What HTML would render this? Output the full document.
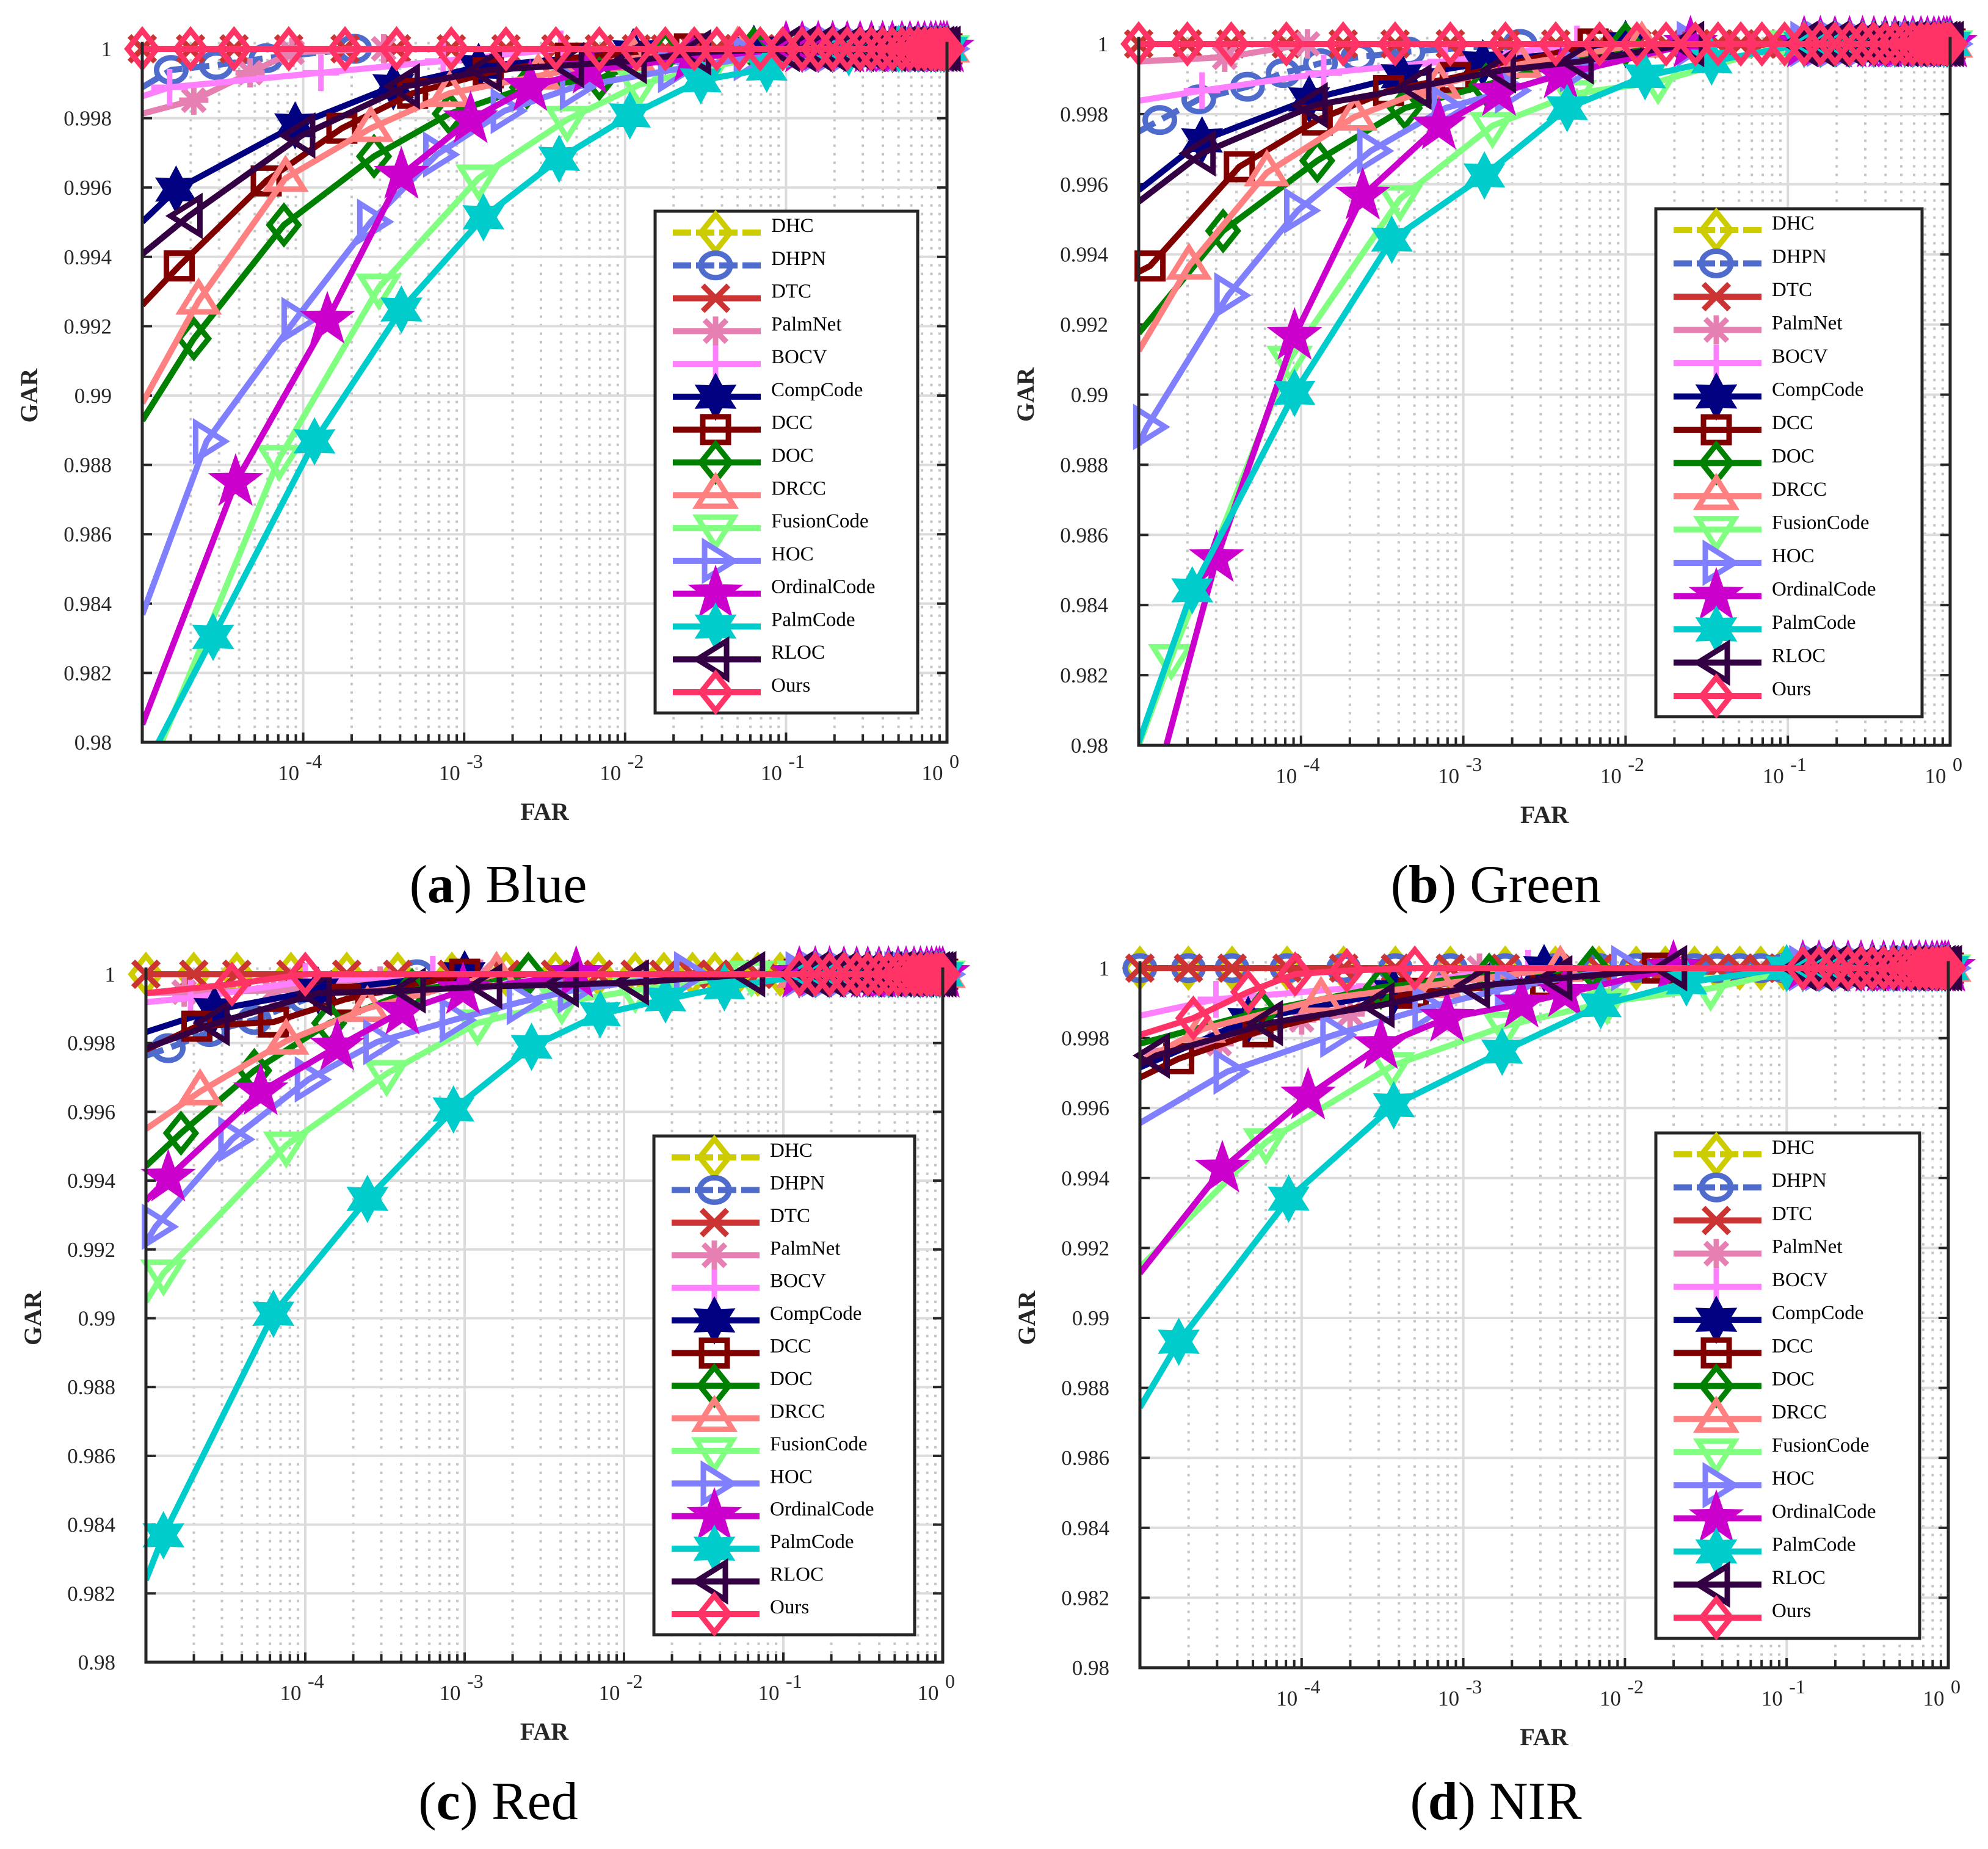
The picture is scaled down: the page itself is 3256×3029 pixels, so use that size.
<!DOCTYPE html>
<html><head><meta charset="utf-8"><title>ROC curves</title>
<style>html,body{margin:0;padding:0;background:#fff}svg{display:block}</style></head>
<body>
<svg id="fig" width="3256" height="3029" viewBox="0 0 3256 3029" xmlns="http://www.w3.org/2000/svg" font-family="'Liberation Serif', serif"></svg>
<script>
// ---------- data: points are [log10(FAR), GAR] ----------
const methodNames = ["DHC","DHPN","DTC","PalmNet","BOCV","CompCode","DCC","DOC","DRCC","FusionCode","HOC","OrdinalCode","PalmCode","RLOC","Ours"];
const yTickLabels = ["0.98","0.982","0.984","0.986","0.988","0.99","0.992","0.994","0.996","0.998","1"];
const yTickValues = [0.98,0.982,0.984,0.986,0.988,0.99,0.992,0.994,0.996,0.998,1];
const xTickExps = ["-4","-3","-2","-1","0"];
const xTickValues = [-4,-3,-2,-1,0];
const captionLetters = ["a","b","c","d"];
const captionNames = ["Blue","Green","Red","NIR"];
const topFlatX = [-5,-4.7,-4.43,-4.09,-3.74,-3.42,-3.08,-2.74,-2.43,-2.16,-1.93,-1.75,-1.57,-1.43,-1.29,-1.16,-1.02];
const tailX = [-0.9,-0.8,-0.71,-0.62,-0.54,-0.47,-0.4,-0.34,-0.28,-0.23,-0.18,-0.14,-0.1,-0.07,-0.04,-0.02,0];

// Panel (a) Blue
const A_DHC=[];const A_DTC=[];const A_Ours=[];
const A_DHPN=[[-5,0.99889],[-4.82,0.99939],[-4.54,0.99953],[-4.23,0.99973],[-3.68,1]];
const A_PalmNet=[[-5,0.99813],[-4.68,0.99852],[-4.33,0.99931],[-4.07,0.9999],[-3.5,1]];
const A_BOCV=[[-5,0.99863],[-4.83,0.99889],[-3.89,0.99931],[-3.13,0.99965],[-2.4,1]];
const A_CompCode=[[-5,0.99501],[-4.79,0.99594],[-4.05,0.99779],[-3.44,0.99892],[-2.91,0.99948],[-1.95,0.9999],[-1.2,1]];
const A_DCC=[[-5,0.99261],[-4.77,0.99374],[-4.23,0.99619],[-3.76,0.99771],[-3.32,0.99872],[-2.85,0.99931],[-2.34,0.99973],[-1.6,1]];
const A_DOC=[[-5,0.98928],[-4.68,0.99164],[-4.12,0.99492],[-3.56,0.9969],[-3.09,0.99813],[-2.61,0.99889],[-2.16,0.99914],[-1.75,0.9999],[-1.2,1]];
const A_DRCC=[[-5,0.98978],[-4.65,0.99273],[-4.11,0.99627],[-3.58,0.99771],[-3.09,0.99872],[-2.54,0.99922],[-1.95,0.99973],[-1.3,1]];
const A_FusionCode=[[-4.88,0.98],[-4.15,0.98818],[-3.53,0.99312],[-2.91,0.99627],[-2.36,0.99796],[-1.91,0.99897],[-1.47,0.99948],[-0.9,1]];
const A_HOC=[[-5,0.98368],[-4.6,0.98868],[-4.05,0.99218],[-3.58,0.99501],[-3.17,0.99695],[-2.75,0.99821],[-2.32,0.99889],[-1.71,0.99939],[-1.24,0.99973],[-0.8,1]];
const A_OrdinalCode=[[-5,0.98051],[-4.42,0.9875],[-3.85,0.99218],[-3.39,0.99636],[-2.96,0.99796],[-2.59,0.99889],[-2.22,0.99939],[-1.59,0.99973],[-1.0,1]];
const A_PalmCode=[[-4.9,0.98],[-4.56,0.98304],[-3.93,0.98868],[-3.39,0.99248],[-2.88,0.99514],[-2.41,0.99683],[-1.97,0.99808],[-1.53,0.99909],[-1.12,0.99943],[-0.61,0.9999],[-0.3,1]];
const A_RLOC=[[-5,0.99408],[-4.71,0.99518],[-4.01,0.9975],[-3.36,0.99892],[-2.85,0.99939],[-2.34,0.99953],[-1.95,0.99965],[-1.55,0.9999],[-1.0,1]];

// Panel (b) Green
const B_DHC=[];const B_DTC=[];const B_Ours=[];
const B_DHPN=[[-5,0.9975],[-4.87,0.99783],[-4.63,0.99842],[-4.33,0.99878],[-4.11,0.99917],[-3.88,0.99945],[-3.65,0.99962],[-3.34,0.99978],[-2.65,1]];
const B_PalmNet=[[-5,0.9995],[-4.47,0.99962],[-3.96,1]];
const B_BOCV=[[-5,0.99838],[-4.61,0.99867],[-3.86,0.99917],[-3.11,0.9995],[-2.3,1]];
const B_CompCode=[[-5,0.99583],[-4.61,0.99725],[-3.95,0.99842],[-3.38,0.99908],[-2.88,0.99945],[-2.0,1]];
const B_DCC=[[-5,0.9935],[-4.93,0.99367],[-4.38,0.9965],[-3.9,0.99783],[-3.46,0.99867],[-3.05,0.99905],[-2.2,1]];
const B_DOC=[[-5,0.99175],[-4.48,0.99467],[-3.9,0.99667],[-3.36,0.99817],[-2.86,0.99883],[-2.0,1]];
const B_DRCC=[[-5,0.99125],[-4.69,0.99367],[-4.21,0.99633],[-3.67,0.99792],[-3.15,0.99883],[-2.65,0.99942],[-1.9,1]];
const B_FusionCode=[[-5,0.98],[-4.8,0.9825],[-4.07,0.991],[-3.39,0.99558],[-2.82,0.99767],[-2.32,0.99858],[-1.8,0.99892],[-1.0,1]];
const B_HOC=[[-5,0.98858],[-4.95,0.98908],[-4.45,0.99283],[-4.02,0.99525],[-3.57,0.99695],[-3.11,0.99817],[-2.72,0.99867],[-2.32,0.99928],[-1.6,1]];
const B_OrdinalCode=[[-4.83,0.98],[-4.52,0.98533],[-4.04,0.99167],[-3.62,0.99567],[-3.15,0.99767],[-2.78,0.99862],[-2.4,0.99912],[-1.6,1]];
const B_PalmCode=[[-5,0.98008],[-4.67,0.98442],[-4.04,0.99005],[-3.44,0.99442],[-2.87,0.99625],[-2.36,0.99817],[-1.88,0.99908],[-1.47,0.9995],[-0.9,1]];
const B_RLOC=[[-5,0.9955],[-4.61,0.99688],[-3.92,0.99825],[-3.28,0.99878],[-2.76,0.99925],[-2.28,0.9995],[-1.6,1]];

// Panel (c) Red
const C_DHC=[];const C_DTC=[];
const C_Ours=[[-5,0.99945],[-4.46,0.99971],[-4.0,1]];
const C_DHPN=[[-5,0.99763],[-4.86,0.99785],[-4.6,0.99832],[-4.32,0.99867],[-4.0,0.99927],[-3.3,1]];
const C_PalmNet=[[-5,0.99945],[-4.76,0.99948],[-4.2,0.99953],[-3.53,0.9998],[-2.9,1]];
const C_BOCV=[[-5,0.99919],[-4.72,0.99931],[-4.0,0.99979],[-3.2,1]];
const C_CompCode=[[-5,0.99832],[-4.57,0.99896],[-3.92,0.99953],[-3.0,1]];
const C_DCC=[[-5,0.9978],[-4.68,0.99849],[-4.2,0.99861],[-3.75,0.99927],[-3.0,1]];
const C_DOC=[[-5,0.99442],[-4.78,0.99538],[-4.32,0.9972],[-3.85,0.99858],[-3.33,0.99953],[-2.6,1]];
const C_DRCC=[[-5,0.9955],[-4.66,0.99659],[-4.12,0.99806],[-3.61,0.99901],[-2.8,1]];
const C_FusionCode=[[-5,0.99048],[-4.89,0.99131],[-4.12,0.99503],[-3.49,0.99711],[-2.92,0.99858],[-2.39,0.99919],[-1.93,0.99953],[-1.2,1]];
const C_HOC=[[-5,0.99221],[-4.94,0.99266],[-4.46,0.9952],[-3.98,0.99694],[-3.55,0.99803],[-3.07,0.99867],[-2.65,0.99919],[-2.33,0.99953],[-1.6,1]];
const C_OrdinalCode=[[-5,0.99342],[-4.86,0.99408],[-4.28,0.99659],[-3.8,0.99789],[-3.39,0.99893],[-3.01,0.99953],[-2.3,1]];
const C_PalmCode=[[-5,0.98239],[-4.89,0.98369],[-4.2,0.99013],[-3.61,0.99347],[-3.07,0.99607],[-2.58,0.99789],[-2.15,0.99884],[-1.74,0.99927],[-1.37,0.99962],[-0.8,1]];
const C_RLOC=[[-5,0.99785],[-4.56,0.99858],[-3.92,0.99945],[-3.33,0.99953],[-2.85,0.99965],[-2.37,0.9997],[-1.93,0.99976],[-1.2,1]];

// Panel (d) NIR
const D_DHC=[];const D_DTC=[];const D_DHPN=[];
const D_Ours=[[-5,0.99809],[-4.67,0.99857],[-4.33,0.99932],[-4.04,0.99983],[-3.72,0.99993],[-3.3,1]];
const D_PalmNet=[[-5,0.99758],[-4.51,0.99784],[-4.0,0.99852],[-3.7,0.99869],[-2.9,1]];
const D_BOCV=[[-5,0.99864],[-4.53,0.99911],[-3.55,0.99949],[-2.6,1]];
const D_CompCode=[[-5,0.99716],[-4.33,0.99852],[-3.43,0.99932],[-2.5,1]];
const D_DCC=[[-5,0.99687],[-4.76,0.99741],[-4.27,0.99818],[-3.31,0.99928],[-2.49,0.99959],[-1.8,1]];
const D_DOC=[[-5,0.99784],[-4.25,0.99877],[-3.51,0.99945],[-2.84,0.9998],[-2.2,1]];
const D_DRCC=[[-5,0.99733],[-4.61,0.99826],[-3.88,0.99911],[-3.15,0.99954],[-2.4,1]];
const D_FusionCode=[[-5,0.99145],[-4.22,0.99503],[-3.44,0.99721],[-2.74,0.99835],[-2.11,0.99903],[-1.47,0.99942],[-0.9,1]];
const D_HOC=[[-5,0.99557],[-4.46,0.99704],[-3.8,0.99809],[-3.23,0.99886],[-2.72,0.99945],[-2.0,1]];
const D_OrdinalCode=[[-5,0.99128],[-4.49,0.99426],[-3.96,0.99635],[-3.51,0.99779],[-3.1,0.99857],[-2.64,0.99898],[-2.37,0.99928],[-1.7,1]];
const D_PalmCode=[[-5,0.98744],[-4.76,0.98932],[-4.08,0.99341],[-3.43,0.99608],[-2.76,0.99761],[-2.15,0.99894],[-1.62,0.99959],[-1.0,1]];
const D_RLOC=[[-5,0.99724],[-4.9,0.9975],[-4.2,0.99843],[-3.51,0.99894],[-2.92,0.99949],[-2.41,0.99971],[-1.7,1]];

// ---------- layout / styles ----------
const panels = [
  {L:233,R:1551,Y1:80,Y0:1216,lg:[1073,346,1503,1168],cap:[816,1478],series:[A_DHC,A_DHPN,A_DTC,A_PalmNet,A_BOCV,A_CompCode,A_DCC,A_DOC,A_DRCC,A_FusionCode,A_HOC,A_OrdinalCode,A_PalmCode,A_RLOC,A_Ours]},
  {L:1865,R:3194,Y1:72,Y0:1221,lg:[2712,342,3148,1174],cap:[2450,1478],series:[B_DHC,B_DHPN,B_DTC,B_PalmNet,B_BOCV,B_CompCode,B_DCC,B_DOC,B_DRCC,B_FusionCode,B_HOC,B_OrdinalCode,B_PalmCode,B_RLOC,B_Ours]},
  {L:239,R:1544,Y1:1596,Y0:2723,lg:[1071,1861,1498,2678],cap:[816,2980],series:[C_DHC,C_DHPN,C_DTC,C_PalmNet,C_BOCV,C_CompCode,C_DCC,C_DOC,C_DRCC,C_FusionCode,C_HOC,C_OrdinalCode,C_PalmCode,C_RLOC,C_Ours]},
  {L:1867,R:3191,Y1:1586,Y0:2732,lg:[2712,1856,3144,2684],cap:[2450,2980],series:[D_DHC,D_DHPN,D_DTC,D_PalmNet,D_BOCV,D_CompCode,D_DCC,D_DOC,D_DRCC,D_FusionCode,D_HOC,D_OrdinalCode,D_PalmCode,D_RLOC,D_Ours]}
];
const colors = ["#cccc00","#4f6bcc","#cc3333","#e680b3","#ff80ff","#000080","#800000","#008000","#ff8080","#80ff80","#8080ff","#cc00cc","#00cccc","#330044","#ff3366"];
const markers = ["diamond","circle","x","asterisk","plus","hexagram","square","diamond","up","down","right","pentagram","hexagram","left","diamond"];
const dashed = [true,true,false,false,false,false,false,false,false,false,false,false,false,false,false];

const NS="http://www.w3.org/2000/svg";
const svg=document.getElementById('fig');
function mk(tag,attrs,parent){const e=document.createElementNS(NS,tag);for(const k in attrs)e.setAttribute(k,attrs[k]);(parent||svg).appendChild(e);return e;}

function markerPath(type,cx,cy,r){
  const p=(pts)=>'M'+pts.map(q=>q[0].toFixed(1)+','+q[1].toFixed(1)).join('L')+'Z';
  if(type==='diamond')return p([[cx,cy-r],[cx+r*0.8,cy],[cx,cy+r],[cx-r*0.8,cy]]);
  if(type==='square')return p([[cx-r*0.7,cy-r*0.7],[cx+r*0.7,cy-r*0.7],[cx+r*0.7,cy+r*0.7],[cx-r*0.7,cy+r*0.7]]);
  if(type==='up')return p([[cx,cy-r],[cx+r,cy+r*0.6],[cx-r,cy+r*0.6]]);
  if(type==='down')return p([[cx,cy+r],[cx+r,cy-r*0.6],[cx-r,cy-r*0.6]]);
  if(type==='right')return p([[cx+r,cy],[cx-r*0.6,cy-r],[cx-r*0.6,cy+r]]);
  if(type==='left')return p([[cx-r,cy],[cx+r*0.6,cy-r],[cx+r*0.6,cy+r]]);
  if(type==='x')return `M${cx-r*0.7},${cy-r*0.7}L${cx+r*0.7},${cy+r*0.7}M${cx+r*0.7},${cy-r*0.7}L${cx-r*0.7},${cy+r*0.7}`;
  if(type==='plus')return `M${cx-r},${cy}L${cx+r},${cy}M${cx},${cy-r}L${cx},${cy+r}`;
  if(type==='asterisk')return `M${cx-r*0.8},${cy}L${cx+r*0.8},${cy}M${cx},${cy-r*0.8}L${cx},${cy+r*0.8}M${cx-r*0.6},${cy-r*0.6}L${cx+r*0.6},${cy+r*0.6}M${cx+r*0.6},${cy-r*0.6}L${cx-r*0.6},${cy+r*0.6}`;
  if(type==='pentagram'||type==='hexagram'){
    const n=type==='pentagram'?5:6,ri=type==='pentagram'?0.4:0.55;const pts=[];
    for(let i=0;i<2*n;i++){const a=-Math.PI/2+i*Math.PI/n;const rr=i%2?r*ri:r;pts.push([cx+rr*Math.cos(a),cy+rr*Math.sin(a)]);}
    return p(pts);
  }
  return '';
}
function drawMarker(g,type,cx,cy,col,name){
  let e;
  if(type==='circle'){e=mk('ellipse',{cx:cx,cy:cy,rx:24,ry:20,fill:'none',stroke:col,'stroke-width':9},g);}
  else{
    const filled=(type==='pentagram'||type==='hexagram');
    const r=type==='pentagram'?34:30;
    e=mk('path',{d:markerPath(type,cx,cy,r),fill:filled?col:'none',stroke:col,'stroke-width':9,'stroke-linejoin':'miter'},g);
  }
  
  
}

panels.forEach((P,pi)=>{
  const g=mk('g',{});
  
  
  const xs=v=>P.L+(v+5)/5*(P.R-P.L);
  const ys=v=>P.Y0-(v-0.98)/0.02*(P.Y0-P.Y1);
  const top=ys(1.0002);
  const grid=mk('g',{},g);
  
  
  for(let d=-5;d<0;d++){for(let m=2;m<10;m++){const x=xs(d+Math.log10(m));
    mk('line',{x1:x,y1:top,x2:x,y2:P.Y0,stroke:'#c4c4c4','stroke-width':4,'stroke-dasharray':'4 10'},grid);
    mk('line',{x1:x,y1:P.Y0,x2:x,y2:P.Y0-13,stroke:'#262626','stroke-width':4},grid);}}
  xTickValues.forEach(v=>{const x=xs(v);mk('line',{x1:x,y1:top,x2:x,y2:P.Y0,stroke:'#dcdcdc','stroke-width':4},grid);
    mk('line',{x1:x,y1:P.Y0,x2:x,y2:P.Y0-16,stroke:'#262626','stroke-width':4},grid);});
  yTickValues.forEach(v=>{const y=ys(v);mk('line',{x1:P.L,y1:y,x2:P.R,y2:y,stroke:'#dcdcdc','stroke-width':4},grid);
    mk('line',{x1:P.L,y1:y,x2:P.L+16,y2:y,stroke:'#262626','stroke-width':4},grid);
    mk('line',{x1:P.R,y1:y,x2:P.R-16,y2:y,stroke:'#262626','stroke-width':4},grid);});
  yTickValues.forEach((v,i)=>{const t=mk('text',{x:P.L-50,y:ys(v)+12,'font-size':35,'text-anchor':'end',fill:'#262626'},g);t.textContent=yTickLabels[i];
    });
  xTickValues.forEach((v,i)=>{const x=xs(v);
    const t=mk('text',{x:x-24,y:P.Y0+62,'font-size':35,'text-anchor':'middle',fill:'#262626'},g);t.textContent='10';
    
    const s=mk('text',{x:x+4,y:P.Y0+42,'font-size':32,fill:'#262626'},g);s.textContent=xTickExps[i];
    });
  const xt=mk('text',{x:(P.L+P.R)/2,y:P.Y0+127,'font-size':40,'font-weight':'bold','text-anchor':'middle',fill:'#262626'},g);xt.textContent='FAR';
  
  const cy=(P.Y1+P.Y0)/2;
  const yt=mk('text',{x:P.L-172,y:cy,'font-size':40,'font-weight':'bold','text-anchor':'middle',fill:'#262626',transform:`rotate(-90 ${P.L-172} ${cy})`},g);yt.textContent='GAR';
  
  const cid='clip'+pi;const cp=mk('clipPath',{id:cid},g);mk('rect',{x:P.L-45,y:P.Y1-60,width:P.R-P.L+90,height:P.Y0-P.Y1+60},cp);
  const cid2='clipl'+pi;const cp2=mk('clipPath',{id:cid2},g);mk('rect',{x:P.L,y:P.Y1-60,width:P.R-P.L+90,height:P.Y0-P.Y1+60},cp2);
  P.series.forEach((pts,si)=>{
    const explicit=pts.length>0;
    let all=explicit?pts.slice():topFlatX.map(x=>[x,1]);
    const lastX=all[all.length-1][0];
    tailX.forEach(x=>{if(x>lastX)all.push([x,1]);});
    const sg=mk('g',{},g);
    
    
    const d='M'+all.map(q=>xs(q[0]).toFixed(1)+','+ys(q[1]).toFixed(1)).join('L');
    const ln=mk('path',{d:d,fill:'none',stroke:colors[si],'stroke-width':10,'stroke-linejoin':'round','clip-path':`url(#${cid2})`},sg);
    if(dashed[si])ln.setAttribute('stroke-dasharray','30 14');
    
    
    const mg=mk('g',{'clip-path':`url(#${cid})`},sg);
    all.forEach(q=>{
      if(q[1]<=0.9801)return;
      if(explicit&&q[0]<=-4.99)return;
      drawMarker(mg,markers[si],xs(q[0]),ys(q[1]),colors[si],methodNames[si].toLowerCase());});
  });
  const ax=mk('path',{d:`M${P.L},${top}L${P.L},${P.Y0}L${P.R},${P.Y0}L${P.R},${top}`,fill:'none',stroke:'#262626','stroke-width':5},g);
  
  const [lx0,ly0,lx1,ly1]=P.lg;
  const lg=mk('g',{},g);
  
  mk('rect',{x:lx0,y:ly0,width:lx1-lx0,height:ly1-ly0,fill:'#fff',stroke:'#262626','stroke-width':5},lg);
  const step=(ly1-ly0-69)/14;
  methodNames.forEach((nm,si)=>{
    const ry=ly0+35+si*step;
    const eg=mk('g',{},lg);
    
    
    const l=mk('line',{x1:lx0+29,y1:ry,x2:lx0+173,y2:ry,stroke:colors[si],'stroke-width':10},eg);
    if(dashed[si])l.setAttribute('stroke-dasharray','30 8');
    drawMarker(eg,markers[si],lx0+99,ry,colors[si],'legend-'+nm.toLowerCase());
    const t=mk('text',{x:lx0+190,y:ry-1,'font-size':33,fill:'#000'},eg);t.textContent=nm;
  });
  const c=mk('text',{x:P.cap[0],y:P.cap[1],'font-size':88,'text-anchor':'middle',fill:'#000'},g);
  
  const t1=mk('tspan',{},c);t1.textContent='(';
  const t2=mk('tspan',{'font-weight':'bold'},c);t2.textContent=captionLetters[pi];
  const t3=mk('tspan',{},c);t3.textContent=') '+captionNames[pi];
});
</script>
</body></html>
